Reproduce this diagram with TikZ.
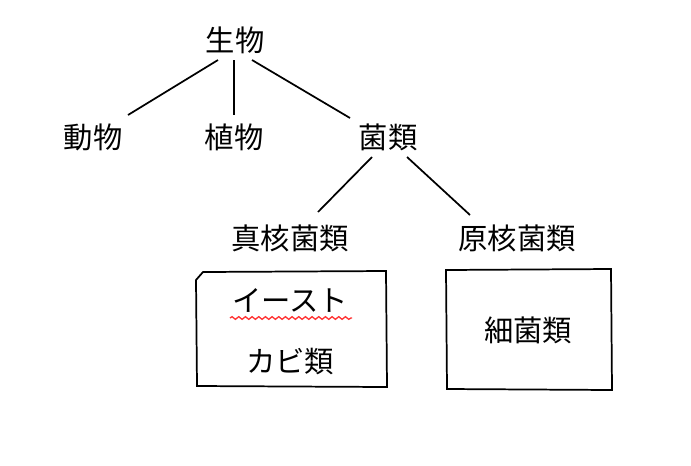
\documentclass[tikz,border=0pt]{standalone}
\usepackage{fontspec}
\setmainfont{Noto Sans CJK JP}
\usetikzlibrary{decorations.pathmorphing}
\begin{document}
\begin{tikzpicture}[x=0.75pt,y=-0.75pt,
  lbl/.style={inner sep=0pt,font=\fontsize{22}{26}\selectfont},
  ln/.style={line width=1.3pt}]
\useasboundingbox (0,0) rectangle (691,465);
\node[lbl] (bio) at (235,40) {生物};
\node[lbl] (ani) at (93,137) {動物};
\node[lbl] (pla) at (234,137) {植物};
\node[lbl] (fun) at (388,137) {菌類};
\node[lbl] (euk) at (290,238) {真核菌類};
\node[lbl] (pro) at (517,238) {原核菌類};
\coordinate (b1) at (218,60); \coordinate (a1) at (128,115);
\coordinate (b2) at (234,60); \coordinate (p1) at (234,115);
\coordinate (b3) at (252,60); \coordinate (f1) at (350,118);
\coordinate (f2) at (372,157); \coordinate (e1) at (318,212);
\coordinate (f3) at (407,157); \coordinate (r1) at (470,215);
\draw[ln] (b1)--(a1); \draw[ln] (b2)--(p1); \draw[ln] (b3)--(f1);
\draw[ln] (f2)--(e1); \draw[ln] (f3)--(r1);
\draw[ln] (203,272)--(386,271)--(387,387)--(197,386)--(196,280)--cycle;
\draw[ln] (446,270)--(611,269)--(612,390)--(447,389)--cycle;
\node[lbl] (yeast) at (290,300) {イースト};
\draw[red!80,line width=1pt,decorate,decoration={snake,amplitude=1pt,segment length=5pt}] (230,318)--(352,318);
\node[lbl] (mold) at (290,362) {カビ類};
\node[lbl] (bac) at (528,330) {細菌類};
\end{tikzpicture}
\end{document}
